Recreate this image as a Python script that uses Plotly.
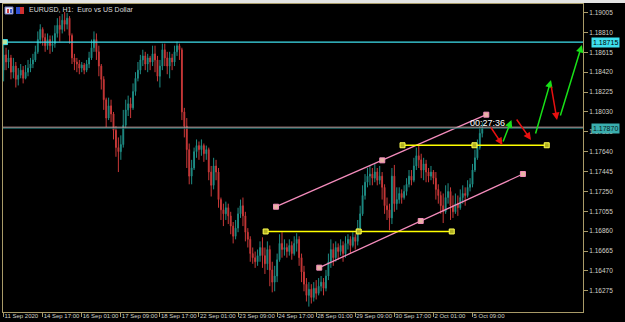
import plotly.graph_objects as go

# ---------------- data (EURUSD H1, one candle per two hours) ----------------
open_ = [
1.1844, 1.1859, 1.1852, 1.1856, 1.1842, 1.1848, 1.1835, 1.1839, 1.1844, 1.1836,
1.1842, 1.1846, 1.1850, 1.1854, 1.1862, 1.1874, 1.1884, 1.1876, 1.1868, 1.1874,
1.1868, 1.1870, 1.1880, 1.1888, 1.1884, 1.1893, 1.1889, 1.1895, 1.1878, 1.1856,
1.1852, 1.1850, 1.1846, 1.1849, 1.1844, 1.1850, 1.1856, 1.1866, 1.1874, 1.1862,
1.1848, 1.1835, 1.1815, 1.1797, 1.1809, 1.1801, 1.1785, 1.1768, 1.1764, 1.1771,
1.1790, 1.1805, 1.1811, 1.1807, 1.1823, 1.1836, 1.1844, 1.1854, 1.1858, 1.1850,
1.1856, 1.1852, 1.1860, 1.1854, 1.1838, 1.1848, 1.1864, 1.1856, 1.1848, 1.1856,
1.1852, 1.1862, 1.1868, 1.1864, 1.1803, 1.1789, 1.1766, 1.1740, 1.1748, 1.1764,
1.1770, 1.1766, 1.1770, 1.1762, 1.1766, 1.1744, 1.1731, 1.1750, 1.1744, 1.1717,
1.1707, 1.1703, 1.1709, 1.1701, 1.1691, 1.1681, 1.1689, 1.1703, 1.1711, 1.1701,
1.1685, 1.1678, 1.1664, 1.1660, 1.1656, 1.1662, 1.1670, 1.1662, 1.1654, 1.1668,
1.1648, 1.1636, 1.1642, 1.1658, 1.1674, 1.1668, 1.1670, 1.1666, 1.1672, 1.1664,
1.1674, 1.1678, 1.1660, 1.1646, 1.1634, 1.1623, 1.1629, 1.1621, 1.1630, 1.1625,
1.1632, 1.1636, 1.1630, 1.1642, 1.1656, 1.1668, 1.1660, 1.1670, 1.1666, 1.1672,
1.1664, 1.1674, 1.1678, 1.1672, 1.1680, 1.1676, 1.1689, 1.1703, 1.1721, 1.1734,
1.1740, 1.1742, 1.1738, 1.1744, 1.1736, 1.1740, 1.1729, 1.1711, 1.1707, 1.1699,
1.1740, 1.1713, 1.1717, 1.1723, 1.1719, 1.1725, 1.1732, 1.1740, 1.1736, 1.1750,
1.1760, 1.1756, 1.1746, 1.1752, 1.1744, 1.1740, 1.1744, 1.1738, 1.1727, 1.1721,
1.1711, 1.1705, 1.1719, 1.1725, 1.1711, 1.1705, 1.1713, 1.1709, 1.1719, 1.1723,
1.1721, 1.1729, 1.1732, 1.1746, 1.1758, 1.1768, 1.1782,
]
close = [
1.1859, 1.1852, 1.1856, 1.1842, 1.1848, 1.1835, 1.1839, 1.1844, 1.1836, 1.1842,
1.1846, 1.1850, 1.1854, 1.1862, 1.1874, 1.1884, 1.1876, 1.1868, 1.1874, 1.1868,
1.1870, 1.1880, 1.1888, 1.1884, 1.1893, 1.1889, 1.1895, 1.1878, 1.1856, 1.1852,
1.1850, 1.1846, 1.1849, 1.1844, 1.1850, 1.1856, 1.1866, 1.1874, 1.1862, 1.1848,
1.1835, 1.1815, 1.1797, 1.1809, 1.1801, 1.1785, 1.1768, 1.1764, 1.1771, 1.1790,
1.1805, 1.1811, 1.1807, 1.1823, 1.1836, 1.1844, 1.1854, 1.1858, 1.1850, 1.1856,
1.1852, 1.1860, 1.1854, 1.1838, 1.1848, 1.1864, 1.1856, 1.1848, 1.1856, 1.1852,
1.1862, 1.1868, 1.1864, 1.1803, 1.1789, 1.1766, 1.1740, 1.1748, 1.1764, 1.1770,
1.1766, 1.1770, 1.1762, 1.1766, 1.1744, 1.1731, 1.1750, 1.1744, 1.1717, 1.1707,
1.1703, 1.1709, 1.1701, 1.1691, 1.1681, 1.1689, 1.1703, 1.1711, 1.1701, 1.1685,
1.1678, 1.1664, 1.1660, 1.1656, 1.1662, 1.1670, 1.1662, 1.1654, 1.1668, 1.1648,
1.1636, 1.1642, 1.1658, 1.1674, 1.1668, 1.1670, 1.1666, 1.1672, 1.1664, 1.1674,
1.1678, 1.1660, 1.1646, 1.1634, 1.1623, 1.1629, 1.1621, 1.1630, 1.1625, 1.1632,
1.1636, 1.1630, 1.1642, 1.1656, 1.1668, 1.1660, 1.1670, 1.1666, 1.1672, 1.1664,
1.1674, 1.1678, 1.1672, 1.1680, 1.1676, 1.1689, 1.1703, 1.1721, 1.1734, 1.1740,
1.1742, 1.1738, 1.1744, 1.1736, 1.1740, 1.1729, 1.1711, 1.1707, 1.1699, 1.1740,
1.1713, 1.1717, 1.1723, 1.1719, 1.1725, 1.1732, 1.1740, 1.1736, 1.1750, 1.1760,
1.1756, 1.1746, 1.1752, 1.1744, 1.1740, 1.1744, 1.1738, 1.1727, 1.1721, 1.1711,
1.1705, 1.1719, 1.1725, 1.1711, 1.1705, 1.1713, 1.1709, 1.1719, 1.1723, 1.1721,
1.1729, 1.1732, 1.1746, 1.1758, 1.1768, 1.1782, 1.1787,
]
high = [
1.1869, 1.1866, 1.1864, 1.1859, 1.1856, 1.1852, 1.1846, 1.1850, 1.1848, 1.1849,
1.1854, 1.1856, 1.1860, 1.1868, 1.1882, 1.1889, 1.1886, 1.1880, 1.1880, 1.1878,
1.1878, 1.1888, 1.1895, 1.1897, 1.1899, 1.1901, 1.1900, 1.1897, 1.1880, 1.1860,
1.1856, 1.1854, 1.1852, 1.1851, 1.1854, 1.1862, 1.1874, 1.1882, 1.1880, 1.1868,
1.1850, 1.1838, 1.1817, 1.1817, 1.1815, 1.1803, 1.1789, 1.1778, 1.1780, 1.1805,
1.1815, 1.1819, 1.1817, 1.1831, 1.1842, 1.1852, 1.1859, 1.1864, 1.1862, 1.1860,
1.1858, 1.1868, 1.1868, 1.1858, 1.1854, 1.1870, 1.1870, 1.1862, 1.1862, 1.1860,
1.1868, 1.1872, 1.1870, 1.1866, 1.1807, 1.1797, 1.1772, 1.1756, 1.1768, 1.1776,
1.1774, 1.1776, 1.1772, 1.1770, 1.1768, 1.1750, 1.1758, 1.1756, 1.1748, 1.1719,
1.1713, 1.1715, 1.1713, 1.1705, 1.1695, 1.1697, 1.1709, 1.1717, 1.1719, 1.1705,
1.1689, 1.1681, 1.1670, 1.1666, 1.1668, 1.1676, 1.1680, 1.1670, 1.1676, 1.1672,
1.1656, 1.1652, 1.1664, 1.1683, 1.1685, 1.1678, 1.1674, 1.1678, 1.1676, 1.1681,
1.1684, 1.1681, 1.1664, 1.1652, 1.1640, 1.1636, 1.1634, 1.1636, 1.1638, 1.1640,
1.1642, 1.1640, 1.1648, 1.1664, 1.1678, 1.1674, 1.1676, 1.1674, 1.1678, 1.1676,
1.1681, 1.1683, 1.1681, 1.1685, 1.1683, 1.1697, 1.1711, 1.1731, 1.1742, 1.1748,
1.1750, 1.1748, 1.1752, 1.1748, 1.1750, 1.1744, 1.1732, 1.1719, 1.1713, 1.1748,
1.1751, 1.1729, 1.1729, 1.1727, 1.1731, 1.1738, 1.1746, 1.1746, 1.1758, 1.1768,
1.1771, 1.1762, 1.1758, 1.1756, 1.1748, 1.1750, 1.1746, 1.1744, 1.1732, 1.1725,
1.1723, 1.1731, 1.1733, 1.1729, 1.1721, 1.1723, 1.1721, 1.1727, 1.1731, 1.1729,
1.1736, 1.1738, 1.1752, 1.1766, 1.1776, 1.1789, 1.1793,
]
low = [
1.1833, 1.1844, 1.1846, 1.1835, 1.1836, 1.1827, 1.1829, 1.1836, 1.1831, 1.1835,
1.1838, 1.1842, 1.1846, 1.1852, 1.1860, 1.1870, 1.1868, 1.1862, 1.1864, 1.1860,
1.1862, 1.1866, 1.1876, 1.1872, 1.1880, 1.1882, 1.1884, 1.1870, 1.1850, 1.1844,
1.1842, 1.1840, 1.1842, 1.1840, 1.1842, 1.1846, 1.1854, 1.1862, 1.1854, 1.1838,
1.1825, 1.1805, 1.1788, 1.1795, 1.1793, 1.1776, 1.1759, 1.1744, 1.1756, 1.1768,
1.1787, 1.1799, 1.1797, 1.1805, 1.1819, 1.1833, 1.1840, 1.1848, 1.1844, 1.1842,
1.1844, 1.1848, 1.1842, 1.1833, 1.1827, 1.1844, 1.1848, 1.1840, 1.1836, 1.1844,
1.1848, 1.1858, 1.1854, 1.1795, 1.1778, 1.1748, 1.1732, 1.1732, 1.1746, 1.1758,
1.1756, 1.1760, 1.1754, 1.1756, 1.1736, 1.1720, 1.1727, 1.1736, 1.1709, 1.1697,
1.1691, 1.1697, 1.1693, 1.1683, 1.1674, 1.1678, 1.1685, 1.1699, 1.1691, 1.1676,
1.1670, 1.1656, 1.1654, 1.1650, 1.1652, 1.1656, 1.1650, 1.1644, 1.1648, 1.1632,
1.1626, 1.1627, 1.1636, 1.1656, 1.1660, 1.1662, 1.1660, 1.1662, 1.1658, 1.1662,
1.1666, 1.1652, 1.1636, 1.1627, 1.1617, 1.1612, 1.1615, 1.1617, 1.1619, 1.1623,
1.1627, 1.1623, 1.1627, 1.1638, 1.1650, 1.1652, 1.1656, 1.1658, 1.1662, 1.1656,
1.1660, 1.1668, 1.1664, 1.1670, 1.1668, 1.1672, 1.1685, 1.1701, 1.1717, 1.1729,
1.1731, 1.1731, 1.1734, 1.1731, 1.1732, 1.1717, 1.1703, 1.1697, 1.1687, 1.1693,
1.1705, 1.1707, 1.1713, 1.1713, 1.1717, 1.1721, 1.1729, 1.1731, 1.1734, 1.1746,
1.1748, 1.1738, 1.1736, 1.1734, 1.1734, 1.1736, 1.1732, 1.1717, 1.1713, 1.1703,
1.1694, 1.1703, 1.1713, 1.1697, 1.1699, 1.1703, 1.1701, 1.1707, 1.1713, 1.1711,
1.1719, 1.1725, 1.1729, 1.1744, 1.1756, 1.1766, 1.1778,
]
bars = list(range(0, 2 * len(close), 2))   # H1 bar index of each candle

time_labels = ["11 Sep 2020", "14 Sep 17:00", "16 Sep 01:00", "17 Sep 09:00",
               "18 Sep 17:00", "22 Sep 01:00", "23 Sep 09:00", "24 Sep 17:00",
               "28 Sep 01:00", "29 Sep 09:00", "30 Sep 17:00", "2 Oct 01:00",
               "5 Oct 09:00"]
time_label_bars = [0, 32, 64, 96, 128, 160, 192, 224, 256, 288, 320, 352, 384]

price_ticks = [1.16275, 1.16470, 1.16665, 1.16860, 1.17055, 1.17250, 1.17445,
               1.17640, 1.17835, 1.18030, 1.18225, 1.18420, 1.18615, 1.18810,
               1.19005]

bid_price = 1.17870
ask_price = 1.17880
resistance_level = 1.18715
resistance_x = [1.1, 477.8]

channel_upper_x = [223.1, 310.1, 395.3]
channel_upper_y = [1.17100, 1.17555, 1.18003]
channel_lower_x = [258.5, 341.6, 425.3]
channel_lower_y = [1.16502, 1.16960, 1.17421]

yellow_upper_x = [326.7, 385.6, 444.8]
yellow_upper_level = 1.17703
yellow_lower_x = [214.6, 290.8, 367.0]
yellow_lower_level = 1.16857

# arrows: (tail bar, tail price, head bar, head price, direction)
arrows = [
    (398.3, 1.17892, 408.6, 1.17706, "down"),
    (408.6, 1.17725, 415.9, 1.17951, "up"),
    (419.3, 1.17970, 431.9, 1.17755, "down"),
    (435.3, 1.17804, 448.3, 1.18343, "up"),
    (448.3, 1.18294, 453.2, 1.17951, "down"),
    (455.6, 1.17980, 473.6, 1.18687, "up"),
]
timer_text = "00:27:36"
timer_bar = 380.3
timer_price = 1.17921

# ---------------- styles ----------------
BULL = "#1e8c84"
BEAR = "#c83838"
AXIS = "#a89a68"
LABEL = "#d2d2c8"
FONT = "Liberation Sans"
W, H = 625, 322
ML, MR, MT, MB = 3, 42, 4, 10
PW, PH = W - ML - MR, H - MT - MB


def px(x):
    return (x - ML) / PW


def py(y):
    return 1 - (y - MT) / PH


fig = go.Figure()
fig.add_trace(go.Candlestick(
    x=bars, open=open_, high=high, low=low, close=close,
    increasing=dict(line=dict(color=BULL, width=1), fillcolor=BULL),
    decreasing=dict(line=dict(color=BEAR, width=1), fillcolor=BEAR),
    whiskerwidth=0, hoverinfo="skip", showlegend=False))

# horizontal resistance (cyan)
fig.add_trace(go.Scatter(x=resistance_x, y=[resistance_level] * 2, mode="lines+markers",
                         line=dict(color="#3fe0ee", width=1.2),
                         marker=dict(symbol="square", size=5, color="#b8e6a0",
                                     line=dict(color="#3fe0ee", width=1)),
                         cliponaxis=False, hoverinfo="skip", showlegend=False))

# channel (pink)
for xs, ys in [(channel_upper_x, channel_upper_y), (channel_lower_x, channel_lower_y)]:
    fig.add_trace(go.Scatter(x=xs, y=ys, mode="lines+markers",
                             line=dict(color="#f48cbc", width=1.3),
                             marker=dict(symbol="square", size=5, color="#e6b4a4",
                                         line=dict(color="#f48cbc", width=1)),
                             hoverinfo="skip", showlegend=False))

# yellow levels
for xs, lvl in [(yellow_upper_x, yellow_upper_level), (yellow_lower_x, yellow_lower_level)]:
    fig.add_trace(go.Scatter(x=xs, y=[lvl] * len(xs), mode="lines+markers",
                             line=dict(color="#ffff00", width=1.3),
                             marker=dict(symbol="square", size=5, color="#b0b020",
                                         line=dict(color="#ffff50", width=1)),
                             hoverinfo="skip", showlegend=False))

shapes = [
    dict(type="line", xref="paper", yref="y", x0=0, x1=1, y0=ask_price, y1=ask_price,
         line=dict(color="#e0b0b0", width=1)),
    dict(type="line", xref="paper", yref="y", x0=0, x1=1, y0=bid_price, y1=bid_price,
         line=dict(color="#1f6a6a", width=1)),
    # window chrome strip at top
    dict(type="rect", xref="paper", yref="paper", x0=px(0), x1=px(W), y0=py(3), y1=py(0),
         fillcolor="#e4e4e4", line=dict(width=0)),
    # symbol icons
    dict(type="rect", xref="paper", yref="paper", x0=px(5), x1=px(13), y0=py(14), y1=py(7),
         fillcolor="#e8e8f4", line=dict(color="#7078c0", width=1)),
    dict(type="rect", xref="paper", yref="paper", x0=px(7), x1=px(9), y0=py(13), y1=py(9),
         fillcolor="#d04040", line=dict(width=0)),
    dict(type="rect", xref="paper", yref="paper", x0=px(10), x1=px(12), y0=py(13), y1=py(9),
         fillcolor="#4060d0", line=dict(width=0)),
    dict(type="rect", xref="paper", yref="paper", x0=px(16), x1=px(20), y0=py(14), y1=py(7),
         fillcolor="#3050d0", line=dict(width=0)),
    dict(type="rect", xref="paper", yref="paper", x0=px(20), x1=px(24), y0=py(14), y1=py(7),
         fillcolor="#d03030", line=dict(width=0)),
]

annotations = [
    dict(text="EURUSD, H1:  Euro vs US Dollar", xref="paper", yref="paper",
         x=px(27), y=py(10), xanchor="left", yanchor="middle", showarrow=False,
         font=dict(family=FONT, size=7, color="#d8d8d8")),
    dict(text=timer_text, x=timer_bar, y=timer_price, xref="x", yref="y",
         xanchor="left", yanchor="middle", showarrow=False,
         font=dict(family=FONT, size=9, color="#ffffff")),
    dict(text=f"{resistance_level:.5f}", xref="paper", yref="y", x=1, y=resistance_level,
         xanchor="left", yanchor="middle", xshift=8, showarrow=False,
         bgcolor="#3fe0ee", borderpad=1, font=dict(family=FONT, size=7, color="#000000")),
    dict(text=f"{bid_price:.5f}", xref="paper", yref="y", x=1, y=bid_price,
         xanchor="left", yanchor="middle", xshift=8, showarrow=False,
         bgcolor="#3aaeae", borderpad=1,
         font=dict(family=FONT, size=7, color="#0a1a1a")),
]
for x0, y0, x1, y1, d in arrows:
    col = "#e81010" if d == "down" else "#18e018"
    annotations.append(dict(x=x1, y=y1, ax=x0, ay=y0, xref="x", yref="y",
                            axref="x", ayref="y", text="", showarrow=True,
                            arrowhead=2, arrowsize=1, arrowwidth=1.5,
                            arrowcolor=col, standoff=0))

fig.update_layout(
    width=W, height=H, margin=dict(l=ML, r=MR, t=MT, b=MB),
    paper_bgcolor="#000000", plot_bgcolor="#000000", showlegend=False,
    boxgap=0.5, shapes=shapes, annotations=annotations,
    xaxis=dict(range=[-0.5, 474.5], rangeslider=dict(visible=False),
               tickvals=time_label_bars, ticktext=time_labels, tickangle=0,
               ticks="outside", ticklen=4, tickcolor=AXIS, tickwidth=1,
               showline=True, linecolor=AXIS, linewidth=1, mirror=True,
               showgrid=False, zeroline=False,
               ticklabelposition="outside right", ticklabelstandoff=-2,
               tickfont=dict(family=FONT, size=6, color=LABEL)),
    yaxis=dict(side="right", range=[1.16067, 1.19089],
               tickvals=price_ticks, ticktext=[f"{v:.5f}" for v in price_ticks],
               ticks="outside", ticklen=4, tickcolor=AXIS, tickwidth=1,
               showline=True, linecolor=AXIS, linewidth=1, mirror=True,
               showgrid=False, zeroline=False,
               tickfont=dict(family=FONT, size=6.5, color=LABEL)),
)

fig.write_html("out.html", config={"displayModeBar": False})
